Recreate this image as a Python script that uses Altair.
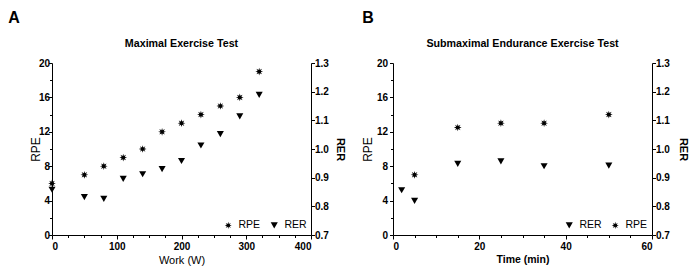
import math
import altair as alt
import pandas as pd

# ---------------- data ----------------
# Panel A: Maximal Exercise Test
a_work = [0, 50, 80, 110, 140, 170, 200, 230, 260, 290, 320]
a_rpe = [6, 7, 8, 9, 10, 12, 13, 14, 15, 16, 19]
a_rer = [0.858, 0.832, 0.826, 0.896, 0.912, 0.930, 0.958, 1.012, 1.052, 1.114, 1.189]

# Panel B: Submaximal Endurance Exercise Test
b_time_rpe = [5, 15, 25, 35, 50]
b_rpe = [7, 12.5, 13, 13, 14]
b_time_rer = [2, 5, 15, 25, 35, 50]
b_rer = [0.856, 0.819, 0.948, 0.957, 0.940, 0.942]

rpe_ticks = [0, 4, 8, 12, 16, 20]
rpe_minor = [2, 6, 10, 14, 18]
rer_ticks = [0.7, 0.8, 0.9, 1.0, 1.1, 1.2, 1.3]
a_x_ticks = [0, 100, 200, 300, 400]
a_x_minor = [25, 50, 75, 125, 150, 175, 225, 250, 275, 325, 350, 375]
b_x_ticks = [0, 20, 40, 60]
b_x_minor = [5, 10, 15, 25, 30, 35, 45, 50, 55]

FONT = "Liberation Sans"
W, H = 259, 172


def asterisk_path(n=8, r_out=1.0, r_in=0.45):
    pts = []
    for k in range(2 * n):
        r = r_out if k % 2 == 0 else r_in
        a = math.pi * k / n - math.pi / 2
        pts.append(f"{r * math.cos(a):.3f},{r * math.sin(a):.3f}")
    return "M" + "L".join(pts) + "Z"


SHAPES = {"RPE": asterisk_path(), "RER": "triangle-down"}


def panel(x_rpe, rpe, x_rer, rer, xdom, xmaj, xmin, xtitle, xtitle_weight, xtitle_size,
          title, letter, order, letter_x, left_title_x, left_lab_pad, right_lab_pad,
          right_title_pad):
    df1 = pd.DataFrame({"x": x_rpe, "v": rpe, "s": "RPE"})
    df2 = pd.DataFrame({"x": x_rer, "v": rer, "s": "RER"})
    xs = alt.Scale(domain=xdom, nice=False, zero=False)
    ys1 = alt.Scale(domain=[0, 20], nice=False, zero=False)
    ys2 = alt.Scale(domain=[0.7, 1.3], nice=False, zero=False)
    legend = alt.Legend(orient="bottom-right", direction="horizontal", title=None,
                        labelFont=FONT, labelFontSize=10.5, labelColor="black",
                        symbolSize=50, symbolFillColor="black", symbolStrokeColor="black",
                        symbolStrokeWidth=0, columnPadding=8, labelOffset=5,
                        offset=4, padding=0)
    shape = alt.Shape("s:N", scale=alt.Scale(domain=order, range=[SHAPES[o] for o in order]),
                      legend=legend)

    l1 = alt.Chart(df1).mark_point(filled=True, color="black", size=60, opacity=1).encode(
        x=alt.X("x:Q", scale=xs, axis=alt.Axis(orient="bottom", values=xmaj, title=xtitle,
                                                tickSize=4, labelPadding=2, titlePadding=3,
                                                titleFontWeight=xtitle_weight,
                                                titleFontSize=xtitle_size)),
        y=alt.Y("v:Q", scale=ys1, axis=alt.Axis(orient="left", values=rpe_ticks, title="RPE",
                                                 tickSize=3.5, labelPadding=left_lab_pad,
                                                 titleX=left_title_x, titleY=H / 2)),
        shape=shape,
    )
    l2 = alt.Chart(df2).mark_point(filled=True, color="black", size=50, opacity=1).encode(
        x=alt.X("x:Q", scale=xs, axis=None),
        y=alt.Y("v:Q", scale=ys2, axis=alt.Axis(orient="right", values=rer_ticks, title="RER",
                                                 format=".1f", tickSize=3.5,
                                                 labelPadding=right_lab_pad,
                                                 titlePadding=right_title_pad,
                                                 titleFontWeight="bold", titleFontSize=11)),
        shape=shape,
    )
    l3 = alt.Chart(df1).mark_point(opacity=0).encode(
        x=alt.X("x:Q", scale=xs, axis=alt.Axis(orient="bottom", values=xmin, labels=False,
                                                domain=False, title=None, tickSize=2.5)),
        y=alt.Y("v:Q", scale=ys1, axis=alt.Axis(orient="left", values=rpe_minor, labels=False,
                                                 domain=False, title=None, tickSize=2.5)),
    )
    t_letter = alt.Chart(pd.DataFrame({"t": [letter]})).mark_text(
        font=FONT, fontSize=16, fontWeight="bold", color="black", align="center",
        baseline="middle").encode(text="t:N", x=alt.value(letter_x), y=alt.value(-45))
    t_title = alt.Chart(pd.DataFrame({"t": [title]})).mark_text(
        font=FONT, fontSize=10.7, fontWeight="bold", color="black", align="center",
        baseline="middle").encode(text="t:N", x=alt.value(W / 2), y=alt.value(-19))
    return alt.layer(l1, l2, l3, t_letter, t_title).resolve_scale(
        x="independent", y="independent").properties(width=W, height=H)


pa = panel(a_work, a_rpe, a_work, a_rer, [0, 400], a_x_ticks, a_x_minor, "Work (W)",
           "normal", 11, "Maximal Exercise Test", "A", ["RPE", "RER"], -38, -10, -1, 0, 6)
pb = panel(b_time_rpe, b_rpe, b_time_rer, b_rer, [0, 60], b_x_ticks, b_x_minor, "Time (min)",
           "bold", 10.5, "Submaximal Endurance Exercise Test", "B", ["RER", "RPE"], -25, -19,
           2, 0, 8)

chart = alt.hconcat(pa, pb, spacing=15).resolve_scale(shape="independent").resolve_legend(
    shape="independent").properties(padding={"left": 0, "top": 2, "right": 2, "bottom": 2}
).configure_view(stroke=None).configure_axis(
    grid=False, domainColor="black", tickColor="black", labelColor="black",
    titleColor="black", labelFont=FONT, titleFont=FONT, labelFontSize=10,
    labelFontWeight="bold", titleFontSize=12, titleFontWeight="normal", domainWidth=1,
    tickWidth=1,
)

chart.save("out.html", embed_options={"renderer": "svg", "actions": False})
